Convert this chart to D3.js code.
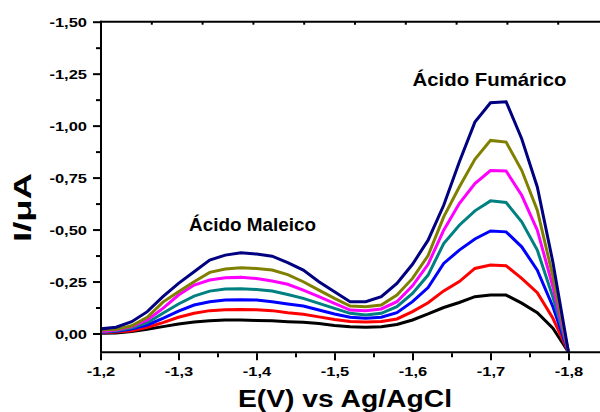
<!DOCTYPE html>
<html><head><meta charset="utf-8">
<script src="https://cdn.jsdelivr.net/npm/d3@7"></script>
<style>
html,body{margin:0;padding:0;background:#fff;}
svg{display:block;}
text{font-family:"Liberation Sans",Arial,sans-serif;font-weight:bold;fill:#000;}
</style>
</head><body>
<svg id="c" width="600" height="412"></svg>
<script>
// Potential (V vs Ag/AgCl)
const E = [-1.20,-1.22,-1.24,-1.26,-1.28,-1.30,-1.32,-1.34,-1.36,-1.38,-1.40,-1.42,-1.44,-1.46,-1.48,-1.50,
           -1.52,-1.54,-1.56,-1.58,-1.60,-1.62,-1.64,-1.66,-1.68,-1.70,-1.72,-1.74,-1.76,-1.78,-1.80];
// Current (µA), one array per concentration
const black   = [-0.001,-0.002,-0.009,-0.020,-0.033,-0.046,-0.055,-0.061,-0.065,-0.065,-0.063,-0.061,-0.057,-0.054,-0.048,-0.039,-0.033,-0.030,-0.033,-0.043,-0.065,-0.094,-0.125,-0.149,-0.177,-0.185,-0.185,-0.146,-0.100,-0.025,0.09];
const red     = [-0.004,-0.007,-0.013,-0.030,-0.052,-0.078,-0.097,-0.110,-0.114,-0.116,-0.114,-0.110,-0.100,-0.093,-0.080,-0.067,-0.058,-0.055,-0.058,-0.070,-0.105,-0.148,-0.205,-0.250,-0.313,-0.329,-0.326,-0.265,-0.196,-0.073,0.09];
const blue    = [-0.006,-0.011,-0.022,-0.041,-0.073,-0.108,-0.137,-0.153,-0.161,-0.162,-0.161,-0.153,-0.142,-0.132,-0.113,-0.094,-0.078,-0.073,-0.078,-0.100,-0.153,-0.221,-0.337,-0.401,-0.455,-0.493,-0.489,-0.417,-0.305,-0.129,0.09];
const teal    = [-0.007,-0.013,-0.028,-0.052,-0.097,-0.142,-0.180,-0.204,-0.214,-0.215,-0.212,-0.204,-0.188,-0.169,-0.145,-0.121,-0.097,-0.089,-0.097,-0.129,-0.193,-0.281,-0.433,-0.521,-0.590,-0.638,-0.630,-0.537,-0.401,-0.175,0.09];
const magenta = [-0.009,-0.017,-0.033,-0.065,-0.121,-0.185,-0.233,-0.257,-0.268,-0.270,-0.265,-0.253,-0.237,-0.209,-0.177,-0.145,-0.113,-0.109,-0.118,-0.153,-0.229,-0.333,-0.497,-0.625,-0.721,-0.784,-0.782,-0.665,-0.497,-0.225,0.09];
const olive   = [-0.017,-0.020,-0.037,-0.078,-0.151,-0.201,-0.249,-0.294,-0.310,-0.316,-0.313,-0.305,-0.283,-0.249,-0.209,-0.169,-0.132,-0.129,-0.137,-0.185,-0.265,-0.375,-0.561,-0.705,-0.838,-0.929,-0.921,-0.785,-0.593,-0.275,0.09];
const navy    = [-0.022,-0.030,-0.057,-0.105,-0.177,-0.241,-0.297,-0.353,-0.377,-0.388,-0.382,-0.372,-0.341,-0.305,-0.249,-0.201,-0.153,-0.153,-0.177,-0.241,-0.333,-0.449,-0.617,-0.825,-1.017,-1.110,-1.115,-0.937,-0.705,-0.343,0.09];

const seriesNames  = ["black","red","blue","teal","magenta","olive","navy"];
const seriesValues = [black, red, blue, teal, magenta, olive, navy];
const seriesColors = ["#000000","#ff0000","#0000ff","#008080","#ff00ff","#808000","#000080"];

const xMajor = [-1.2,-1.3,-1.4,-1.5,-1.6,-1.7,-1.8];
const xMinor = [-1.25,-1.35,-1.45,-1.55,-1.65,-1.75];
const yMajor = [0,-0.25,-0.5,-0.75,-1.0,-1.25,-1.5];
const yMinor = [-0.125,-0.375,-0.625,-0.875,-1.125,-1.375];
const xTitle = "E(V) vs Ag/AgCl";
const yTitle = "I/\u03bcA";
const labelMaleico = "\u00c1cido Maleico";
const labelFumarico = "\u00c1cido Fum\u00e1rico";

const loc = d3.formatLocale({decimal: ",", thousands: ".", grouping: [3], currency: ["", ""], minus: "-"});
const fmtY = loc.format(".2f");
const fmtX = loc.format(".1f");

const svg = d3.select("#c");
const x = d3.scaleLinear().domain([-1.2, -1.8]).range([100.5, 568.5]);
const y = d3.scaleLinear().domain([0, -1.5]).range([333.5, 21.7]);
const xEnd = -1.845, yEnd = 0.09;
const L = 101, R = x(xEnd), T = y(-1.5), B = y(yEnd);

svg.append("defs").append("clipPath").attr("id","clip")
  .append("rect").attr("x", L).attr("y", T).attr("width", R - L).attr("height", B - T);

const line = d3.line().x((d, i) => x(E[i])).y(d => y(d));
svg.append("g").attr("clip-path","url(#clip)")
  .selectAll("path").data(seriesValues).join("path")
  .attr("d", d => line(d))
  .attr("fill","none")
  .attr("stroke", (d, i) => seriesColors[i])
  .attr("stroke-width", 3);

// frame lines
const frame = svg.append("g").attr("stroke","#000").attr("stroke-width",2);
frame.append("line").attr("x1", L).attr("x2", L).attr("y1", T - 1).attr("y2", B + 1);
frame.append("line").attr("x1", L - 1).attr("x2", 600).attr("y1", B).attr("y2", B);
frame.append("line").attr("x1", L - 1).attr("x2", 600).attr("y1", T).attr("y2", T);

function styleAxis(g) {
  g.select(".domain").remove();
  g.selectAll("line").attr("stroke","#000").attr("stroke-width",2);
  g.attr("font-family", null).attr("font-size", null);
}

const SX = 1.32;
// Y axis
svg.append("g").attr("transform", `translate(${L - 1},0)`)
  .call(d3.axisLeft(y).tickValues(yMajor).tickSize(7).tickFormat(fmtY))
  .call(styleAxis)
  .call(g => g.selectAll("text")
     .attr("x", -13 / SX).attr("dy", "0.36em")
     .attr("transform", `scale(${SX},1)`)
     .style("font-size", "12.5px"));
svg.append("g").attr("transform", `translate(${L - 1},0)`)
  .call(d3.axisLeft(y).tickValues(yMinor).tickSize(4).tickFormat(""))
  .call(styleAxis);

// X axis
svg.append("g").attr("transform", `translate(0,${B + 1})`)
  .call(d3.axisBottom(x).tickValues(xMajor).tickSize(7).tickFormat(fmtX))
  .call(styleAxis)
  .call(g => g.selectAll("text")
     .attr("y", 22.5).attr("dy", 0)
     .attr("transform", `scale(${SX},1)`)
     .style("font-size", "12.5px"));
svg.append("g").attr("transform", `translate(0,${B + 1})`)
  .call(d3.axisBottom(x).tickValues(xMinor).tickSize(4).tickFormat(""))
  .call(styleAxis);

// top axis ticks (inside)
const xTop = d3.scaleLinear().domain([0, 10]).range([100.5, 608.5]);
svg.append("g").attr("transform", `translate(0,${T})`)
  .call(d3.axisBottom(xTop).tickValues(d3.range(1, 10)).tickSize(3).tickFormat(""))
  .call(styleAxis);

// titles
svg.append("text").attr("x", 345).attr("y", 406.5)
  .attr("text-anchor","middle").style("font-size","23.5px")
  .attr("textLength", 214).attr("lengthAdjust","spacingAndGlyphs")
  .text(xTitle);
svg.append("text").attr("transform","translate(30.5,207.5) rotate(-90)")
  .attr("text-anchor","middle").style("font-size","24px")
  .attr("textLength", 69).attr("lengthAdjust","spacingAndGlyphs")
  .text(yTitle);

// annotations
svg.append("text").attr("x", 189).attr("y", 230.5)
  .style("font-size","17.5px")
  .attr("textLength", 127).attr("lengthAdjust","spacingAndGlyphs")
  .text(labelMaleico);
svg.append("text").attr("x", 412.5).attr("y", 86)
  .style("font-size","18.5px")
  .attr("textLength", 154).attr("lengthAdjust","spacingAndGlyphs")
  .text(labelFumarico);
</script>
</body></html>
